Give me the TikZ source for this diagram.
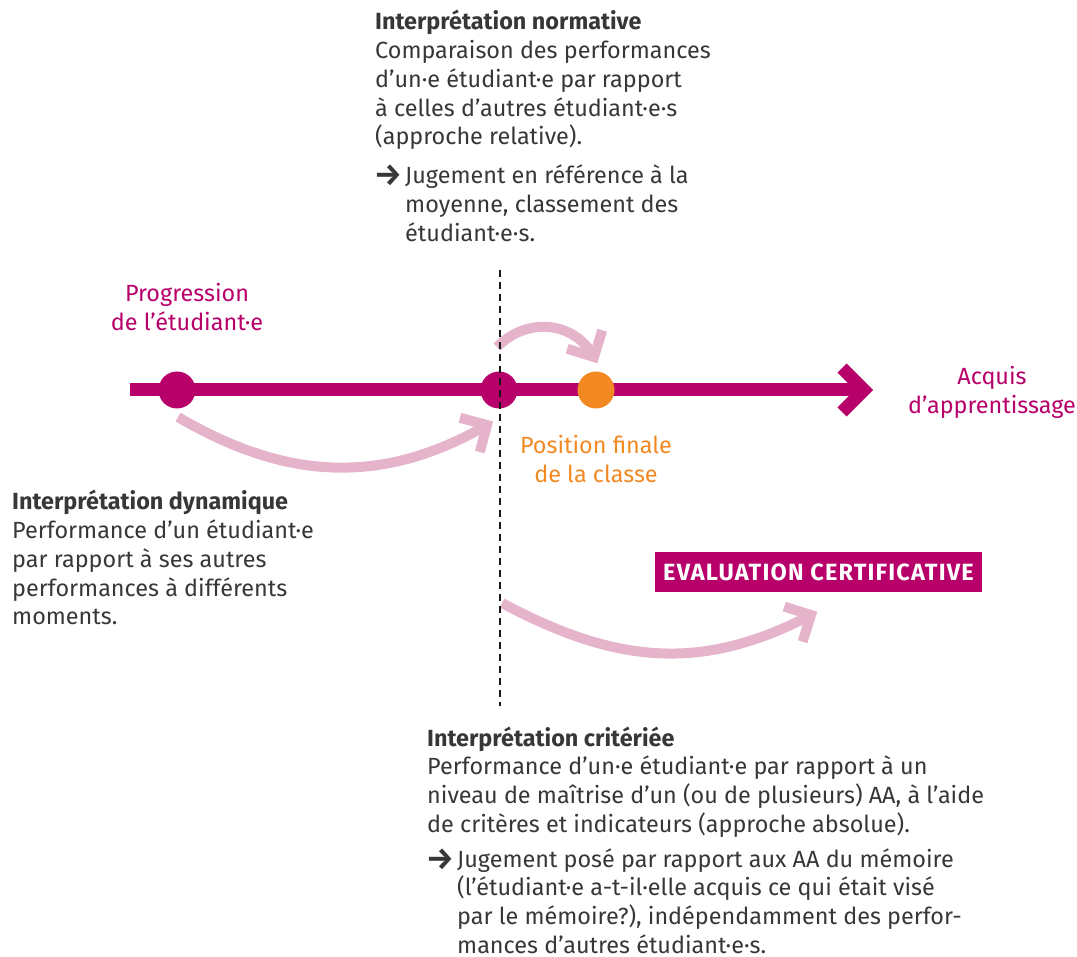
\documentclass[tikz,border=0pt]{standalone}
\usepackage{fontspec}
\setmainfont{Fira Sans}
\usetikzlibrary{calc}
\definecolor{mag}{RGB}{184,0,106}
\definecolor{org}{RGB}{243,137,35}
\definecolor{pinkarr}{RGB}{229,180,203}
\definecolor{txt}{RGB}{55,55,55}
\tikzset{
  body/.style={anchor=base west, inner sep=0pt, text=txt, font=\fontsize{23.4}{28.7}\selectfont},
  lbl/.style={anchor=base, inner sep=0pt, font=\fontsize{23.4}{28.7}\selectfont},
  arrowmark/.style={anchor=base west, inner sep=0pt, text=txt, font=\bfseries\fontsize{31}{28.7}\selectfont},
  dot/.style={circle, inner sep=0pt, minimum size=37pt},
  pinkline/.style={draw=pinkarr, line width=10pt},
  pinkhead/.style={draw=pinkarr, line width=10pt, line join=miter, miter limit=4},
  axis/.style={draw=mag, line width=13pt},
  axishead/.style={draw=mag, line width=13pt, line join=miter, miter limit=4},
  dashedsep/.style={draw=black!90, line width=2.6pt, dash pattern=on 7pt off 5pt},
  evalbox/.style={fill=mag, text=white, inner sep=0pt, minimum width=327pt, minimum height=40pt, font=\bfseries\fontsize{23.5}{26}\selectfont\addfontfeature{LetterSpace=5}}
}
\begin{document}
\begin{tikzpicture}[x=1pt,y=-1pt]
\useasboundingbox (0,0) rectangle (1077,957);

% main axis
\coordinate (ax0) at (130,390);
\coordinate (axT) at (864,390);
\draw[axis] (ax0) -- (axT);
\draw[axishead] ($(axT)+(-22,-22)$) -- (axT) -- ($(axT)+(-22,22)$);

% pink curved arrows
\coordinate (c1s) at (178,417);
\coordinate (c1e) at (487,425);
\coordinate (c1b) at (382,486);
\draw[pinkline] (c1s) .. controls (285,480) and (c1b) .. (c1e);
\draw[pinkhead] ($(c1e)!28pt!45:(c1b)$) -- (c1e) -- ($(c1e)!28pt!-45:(c1b)$);

\coordinate (c2s) at (497,347);
\coordinate (c2e) at (594,357);
\coordinate (c2b) at (576,323);
\draw[pinkline] (c2s) .. controls (529,315) and (c2b) .. (c2e);
\draw[pinkhead] ($(c2e)!28pt!45:(c2b)$) -- (c2e) -- ($(c2e)!28pt!-45:(c2b)$);

\coordinate (c3s) at (502,603);
\coordinate (c3e) at (811,615);
\coordinate (c3b) at (702,672);
\draw[pinkline] (c3s) .. controls (616,664) and (c3b) .. (c3e);
\draw[pinkhead] ($(c3e)!28pt!45:(c3b)$) -- (c3e) -- ($(c3e)!28pt!-45:(c3b)$);

% dots
\node[dot, fill=mag] (d1) at (177,390) {};
\node[dot, fill=mag] (d2) at (499,390) {};
\node[dot, fill=org] (d3) at (596,390) {};

% dashed separator
\coordinate (vt) at (500,270);
\coordinate (vb) at (500,706);
\draw[dashedsep] (vt) -- (vb);

% colored labels
\node[lbl, text=mag] (prog) at (187,302) {\begin{tabular}[t]{@{}c@{}}Progression\\de l’étudiant·e\end{tabular}};
\node[lbl, text=mag] (acq) at (992,385) {\begin{tabular}[t]{@{}c@{}}Acquis\\d’apprentissage\end{tabular}};
\node[lbl, text=org] (posf) at (596,454) {\begin{tabular}[t]{@{}c@{}}Position finale\\de la classe\end{tabular}};

% evaluation box
\node[evalbox] (eval) at (818.5,572) {EVALUATION CERTIFICATIVE};

% normative
\node[body] (norm) at (375,30) {\begin{tabular}[t]{@{}l@{}}\textbf{Interprétation normative}\\Comparaison des performances\\d’un·e étudiant·e par rapport\\à celles d’autres étudiant·e·s\\(approche relative).\end{tabular}};
\node[arrowmark] (normarr) at (374,186) {→};
\node[body] (normj) at (405,184) {\begin{tabular}[t]{@{}l@{}}Jugement en référence à la\\moyenne, classement des\\étudiant·e·s.\end{tabular}};

% dynamique
\node[body] (dyn) at (12,510) {\begin{tabular}[t]{@{}l@{}}\textbf{Interprétation dynamique}\\Performance d’un étudiant·e\\par rapport à ses autres\\performances à différents\\moments.\end{tabular}};

% critériée
\node[body] (crit) at (427,746) {\begin{tabular}[t]{@{}l@{}}\textbf{Interprétation critériée}\\Performance d’un·e étudiant·e par rapport à un\\niveau de maîtrise d’un (ou de plusieurs) AA, à l’aide\\de critères et indicateurs (approche absolue).\end{tabular}};
\node[arrowmark] (critarr) at (426,869) {→};
\node[body] (critj) at (457,867) {\begin{tabular}[t]{@{}l@{}}Jugement posé par rapport aux AA du mémoire\\(l’étudiant·e a-t-il·elle acquis ce qui était visé\\par le mémoire?), indépendamment des perfor-\\mances d’autres étudiant·e·s.\end{tabular}};
\end{tikzpicture}
\end{document}
